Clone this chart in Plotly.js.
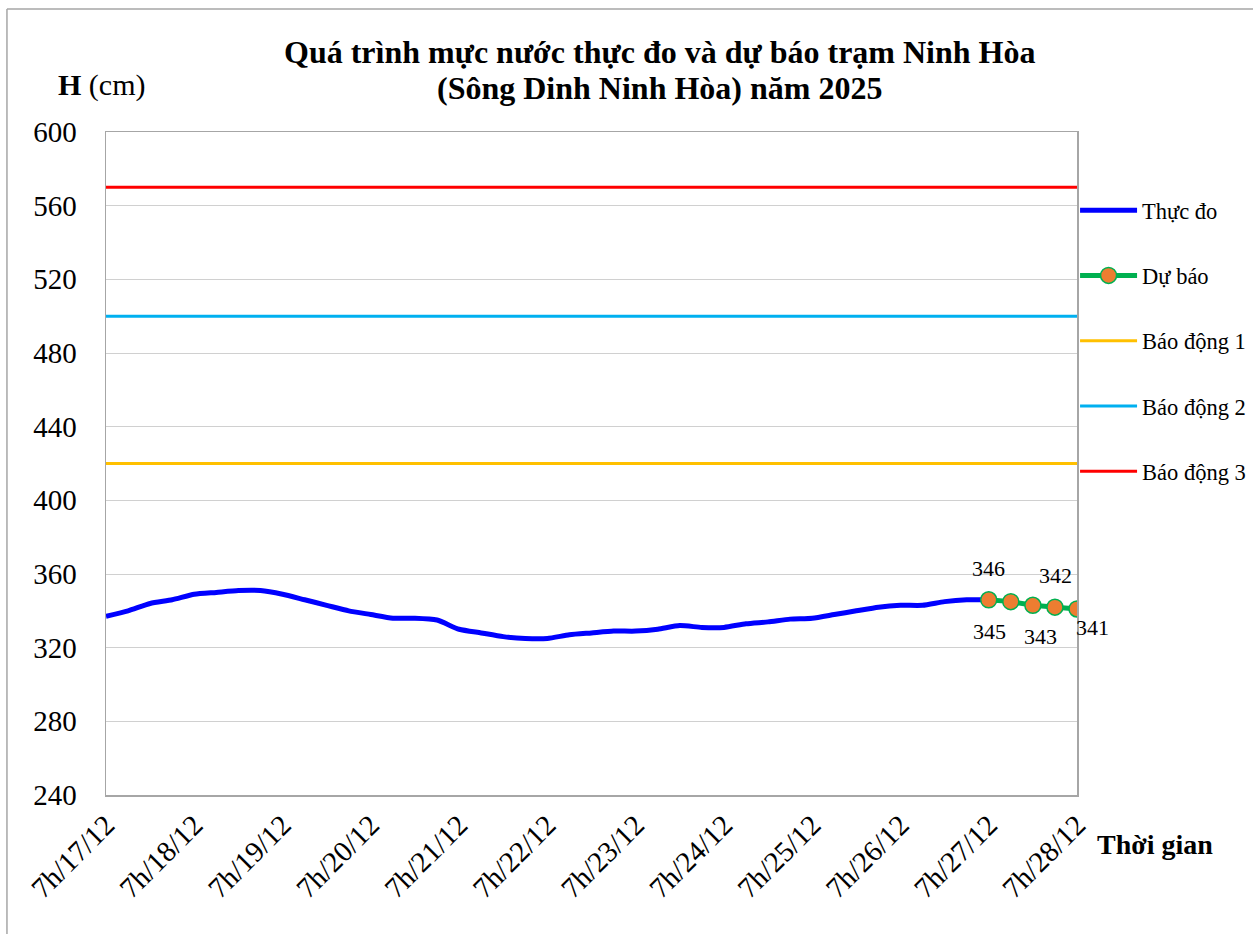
<!DOCTYPE html>
<html>
<head>
<meta charset="utf-8">
<script src="https://cdn.plot.ly/plotly-3.0.1.min.js"></script>
<style>html,body{margin:0;padding:0;background:#fff}#chart{width:1253px;height:934px}</style>
</head>
<body>
<div id="chart"></div>
<script>
// Time steps (hours after 7h 17/12), 6-hourly
const obsHours = [0,6,12,18,24,30,36,42,48,54,60,66,72,78,84,90,96,102,108,114,120,126,132,138,144,150,156,162,168,174,180,186,192,198,204,210,216,222,228,234,240];
const obsValues = [337,340,344,346,349,350,351,351,349,346,343,340,338,336,336,335,330,328,326,325,325,327,328,329,329,330,332,331,331,333,334,335.5,336,338,340,342,343,343,345,346,346];
const fcHours = [240,246,252,258,264];
const fcValues = [346,345,343,342,341];
const alarmNames = ["Báo động 1","Báo động 2","Báo động 3"];
const alarmLevels = [420,500,570];
const alarmColors = ["#FFC000","#00B0F0","#FF0000"];
const tickHours = [0,24,48,72,96,120,144,168,192,216,240,264];
const tickLabels = ["7h/17/12","7h/18/12","7h/19/12","7h/20/12","7h/21/12","7h/22/12","7h/23/12","7h/24/12","7h/25/12","7h/26/12","7h/27/12","7h/28/12"];
const xRange = [0,264];
const titleLine1 = "Quá trình mực nước thực đo và dự báo trạm Ninh Hòa";
const titleLine2 = "(Sông Dinh Ninh Hòa) năm 2025";

const font = "'Liberation Serif','Times New Roman',serif";

const traces = [
  {x: obsHours, y: obsValues, name: "Thực đo", mode: "lines",
   line: {color: "#0000FF", width: 5, shape: "spline", smoothing: 0.6}, legendgroup: "a"},
  {x: fcHours, y: fcValues, name: "Dự báo", mode: "lines+markers",
   line: {color: "#00B050", width: 5},
   marker: {color: "#ED7D31", size: 16, line: {color: "#00B050", width: 1.5}}, legendgroup: "b"}
];
alarmNames.forEach((n,i)=>{
  traces.push({x: xRange, y: [alarmLevels[i], alarmLevels[i]], name: n, mode: "lines",
    line: {color: alarmColors[i], width: 3}, legendgroup: "c"+i});
});

// data labels for forecast points (pixel offsets; positive yshift = up)
const labelShifts = [[0,31],[-21,-30],[8,-31],[1,32],[15,-19]];
const annotations = fcValues.map((v,i)=>({
  x: fcHours[i], y: v, xref: "x", yref: "y", text: String(v), showarrow: false,
  xshift: labelShifts[i][0], yshift: labelShifts[i][1],
  font: {family: font, size: 22, color: "#000"}
}));
annotations.push({xref: "paper", yref: "paper", x: 0.5705, y: 1.12, xanchor: "center", yanchor: "middle",
  text: "<b>" + titleLine1 + "</b>", showarrow: false, font: {family: font, size: 32, color: "#000"}});
annotations.push({xref: "paper", yref: "paper", x: 0.5705, y: 1.066, xanchor: "center", yanchor: "middle",
  text: "<b>" + titleLine2 + "</b>", showarrow: false, font: {family: font, size: 32, color: "#000"}});
annotations.push({xref: "paper", yref: "paper", x: -0.005, y: 1.071, xanchor: "center", yanchor: "middle",
  text: "<b>H</b> (cm)", showarrow: false, font: {family: font, size: 30, color: "#000"}});
annotations.push({xref: "paper", yref: "paper", x: 1.08, y: -0.075, xanchor: "center", yanchor: "middle",
  text: "<b>Thời gian</b>", showarrow: false, font: {family: font, size: 28, color: "#000"}});

const layout = {
  width: 1253, height: 934,
  margin: {l: 106, r: 176, t: 132, b: 139, autoexpand: false},
  paper_bgcolor: "#fff", plot_bgcolor: "#fff",
  xaxis: {range: xRange, tickvals: tickHours, ticktext: tickLabels, tickangle: -45, automargin: false,
    showgrid: false, zeroline: false, showline: true, linecolor: "#A6A6A6", linewidth: 1.5, mirror: true,
    ticks: "", tickfont: {family: font, size: 29, color: "#000"}},
  yaxis: {range: [240,600], dtick: 40, tick0: 240, showgrid: true, gridcolor: "#D0D0D0", gridwidth: 1, automargin: false,
    zeroline: false, showline: true, linecolor: "#A6A6A6", linewidth: 1.5, mirror: true, ticks: "",
    tickfont: {family: font, size: 29, color: "#000"}, ticklabelstandoff: 22},
  legend: {x: 0.998, y: 0.914, xanchor: "left", yanchor: "top", font: {family: font, size: 22.5, color: "#000"},
    itemwidth: 57, tracegroupgap: 33, bgcolor: "rgba(0,0,0,0)", traceorder: "grouped"},
  showlegend: true,
  annotations: annotations,
  shapes: [
    {type: "line", xref: "paper", yref: "paper", x0: -0.102, x1: 1.2, y0: 1.1855, y1: 1.1855, line: {color: "#A6A6A6", width: 1.5}},
    {type: "line", xref: "paper", yref: "paper", x0: -0.102, x1: -0.102, y0: 1.1855, y1: -0.22, line: {color: "#A6A6A6", width: 1.5}}
  ]
};

Plotly.newPlot("chart", traces, layout, {displayModeBar: false, staticPlot: true});
</script>
</body>
</html>
